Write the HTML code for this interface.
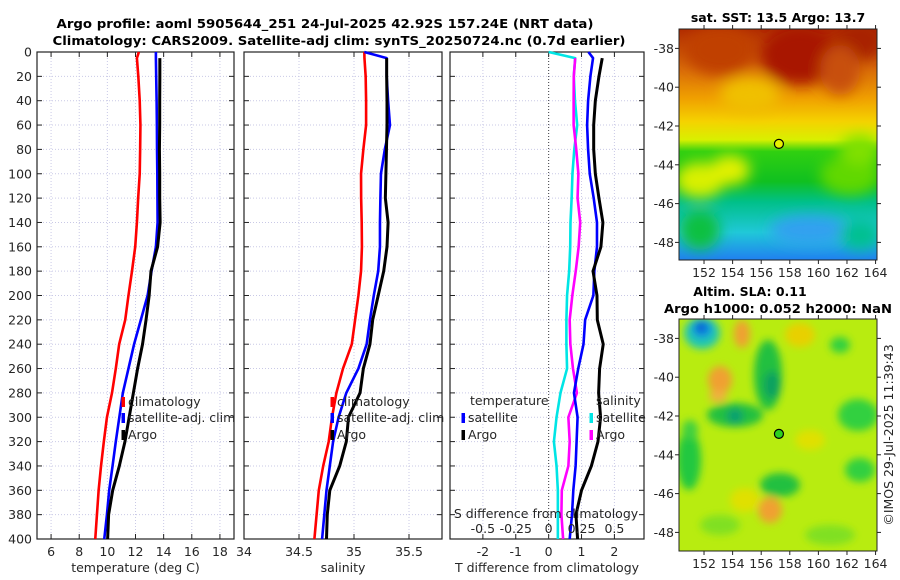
<!DOCTYPE html>
<html><head><meta charset="utf-8"><style>
html,body{margin:0;padding:0;background:#fff;}
svg{display:block;font-family:"DejaVu Sans","Liberation Sans",sans-serif;}
</style></head><body>
<svg id="fig" width="900" height="580" viewBox="0 0 900 580" xmlns="http://www.w3.org/2000/svg">
<defs>
<filter id="blur8" x="-50%" y="-50%" width="200%" height="200%"><feGaussianBlur stdDeviation="7"/></filter>
<filter id="blur4" x="-50%" y="-50%" width="200%" height="200%"><feGaussianBlur stdDeviation="4"/></filter>
<clipPath id="clipMap1"><rect x="679" y="29" width="198" height="231"/></clipPath>
<clipPath id="clipMap2"><rect x="679" y="319" width="198" height="232"/></clipPath>
<linearGradient id="sstGrad" x1="0" y1="0" x2="0" y2="1">
<stop offset="0" stop-color="#b02a00"/><stop offset="0.17" stop-color="#d86a08"/><stop offset="0.3" stop-color="#f0a000"/>
<stop offset="0.4" stop-color="#f5d200"/><stop offset="0.48" stop-color="#d8f000"/><stop offset="0.53" stop-color="#30d010"/>
<stop offset="0.66" stop-color="#10c020"/><stop offset="0.75" stop-color="#00c08a"/><stop offset="0.88" stop-color="#20c8d8"/>
<stop offset="1" stop-color="#2080f0"/></linearGradient>
</defs>
<text x="325" y="28" text-anchor="middle" font-weight="bold" font-size="12.5" textLength="537" lengthAdjust="spacingAndGlyphs">Argo profile: aoml 5905644_251 24-Jul-2025 42.92S 157.24E (NRT data)</text>
<text x="339" y="45" text-anchor="middle" font-weight="bold" font-size="12.5" textLength="573" lengthAdjust="spacingAndGlyphs">Climatology: CARS2009. Satellite-adj clim: synTS_20250724.nc (0.7d earlier)</text>
<g id="panels"></g>
<g id="maps"></g>
</svg>
<script>
// ---- profile data (depth in m) ----
const depths = [0,5,20,40,60,80,100,120,140,160,180,200,220,240,260,280,300,320,340,360,380,400];
const climT = [12.24,12.1,12.2,12.3,12.35,12.33,12.3,12.19,12.1,11.98,11.75,11.5,11.27,10.84,10.6,10.33,9.97,9.75,9.55,9.38,9.26,9.14];
const satT  = [13.45,13.45,13.47,13.5,13.52,13.53,13.55,13.56,13.57,13.45,13.14,12.86,12.38,11.9,11.5,11.1,10.85,10.6,10.37,10.13,9.97,9.78];
const argoT = [null,13.73,13.73,13.72,13.72,13.7,13.72,13.72,13.75,13.57,13.1,12.97,12.75,12.5,12.15,11.85,11.55,11.25,10.85,10.38,10.09,10.02];
const climS = [35.094,35.095,35.106,35.11,35.11,35.085,35.064,35.065,35.07,35.072,35.064,35.04,35.01,34.98,34.9,34.84,34.8,34.77,34.72,34.68,34.66,34.64];
const satS  = [35.094,35.297,35.297,35.31,35.327,35.28,35.245,35.24,35.236,35.236,35.22,35.18,35.145,35.115,35.04,34.93,34.86,34.81,34.78,34.75,34.73,34.71];
const argoS = [null,35.297,35.297,35.3,35.3,35.295,35.29,35.285,35.31,35.3,35.27,35.22,35.17,35.145,35.085,35.055,34.95,34.93,34.87,34.78,34.757,34.75];
const depthTicks = [0,20,40,60,80,100,120,140,160,180,200,220,240,260,280,300,320,340,360,380,400];
const tTicks = [6,8,10,12,14,16,18];
const sTicks = [34,34.5,35,35.5];
const sTickLabels = ["34","34.5","35","35.5"];
const dTTicks = [-2,-1,0,1,2];
const dSTicks = [-0.5,-0.25,0,0.25,0.5];
const dSTickLabels = ["-0.5","-0.25","0","0.25","0.5"];
// map data
const argoLon = 157.24, argoLat = -42.92;
const lonTicks = [152,154,156,158,160,162,164];
const latTicks = [-38,-40,-42,-44,-46,-48];

const NS="http://www.w3.org/2000/svg";
function el(tag, attrs, parent){const e=document.createElementNS(NS,tag);for(const k in attrs)e.setAttribute(k,attrs[k]);parent.appendChild(e);return e;}
const G=document.getElementById('panels');
const top0=52, bot0=539;
const yD = d => top0 + (d/400)*(bot0-top0);

function makeLinear(d0,d1,r0,r1){return v=>r0+(v-d0)/(d1-d0)*(r1-r0);}
const xT = makeLinear(5,19,37,234);
const xS = makeLinear(34,35.8,244,442);
const xdT = makeLinear(-3,2.9,450,644);
const xdS = v => xdT(v*4);

function panelFrame(x0,x1,name,xt,tickVals,tickLabels,xlabel,showY){
  const g=el('g',{},G);
  
  
  // grid
  tickVals.forEach(v=>{const x=xt(v);if(x>x0+1&&x<x1-1){const l=el('line',{x1:x,x2:x,y1:top0,y2:bot0,stroke:'#c9c9e6','stroke-width':1,'stroke-dasharray':'1,2'},g);}});
  depthTicks.forEach(d=>{const y=yD(d);if(d>0&&d<400){const l=el('line',{x1:x0,x2:x1,y1:y,y2:y,stroke:'#c9c9e6','stroke-width':1,'stroke-dasharray':'1,2'},g);}
    el('line',{x1:x0,x2:x0+5,y1:y,y2:y,stroke:'#222'},g);el('line',{x1:x1,x2:x1-5,y1:y,y2:y,stroke:'#222'},g);
    if(showY){const t=el('text',{x:x0-5,y:y+4.5,'text-anchor':'end','font-size':12.5,fill:'#262626'},g);t.textContent=d;}
  });
  tickVals.forEach((v,i)=>{const x=xt(v);el('line',{x1:x,x2:x,y1:bot0,y2:bot0-5,stroke:'#222'},g);el('line',{x1:x,x2:x,y1:top0,y2:top0+5,stroke:'#222'},g);
    const t=el('text',{x:x,y:bot0+17,'text-anchor':'middle','font-size':12.5,fill:'#262626'},g);t.textContent=tickLabels[i];});
  const r=el('rect',{x:x0,y:top0,width:x1-x0,height:bot0-top0,fill:'none',stroke:'#222','stroke-width':1.2},g);
  
  const xl=el('text',{x:(x0+x1)/2,y:572,'text-anchor':'middle','font-size':12.5,fill:'#262626'},g);xl.textContent=xlabel;
  
  return g;
}
function series(g,vals,xf,color,name,w){
  let pts=[];vals.forEach((v,i)=>{if(v!==null&&v!==undefined)pts.push(xf(v).toFixed(2)+','+yD(depths[i]).toFixed(2));});
  const p=el('polyline',{points:pts.join(' '),fill:'none',stroke:color,'stroke-width':w||2.6,'stroke-linejoin':'round'},g);
  
  
}
function legendEntry(g,x,y,color,label,name){
  const m=el('rect',{x:x-1.5,y:y-8,width:3.5,height:10,fill:color},g);
  const t=el('text',{x:x+5,y:y+1,'font-size':12.5,fill:'#262626'},g);t.textContent=label;
  
  
}

// Panel 1 temperature
const g1=panelFrame(37,234,'temperature-panel',xT,tTicks,tTicks.map(String),'temperature (deg C)',true);
series(g1,climT,xT,'#ff0000','temp-climatology-line');
series(g1,satT,xT,'#0000ff','temp-satellite-line');
series(g1,argoT,xT,'#000000','temp-argo-line',3);
legendEntry(g1,123,405,'#ff0000','climatology','legend-climatology');
legendEntry(g1,123,421,'#0000ff','satellite-adj. clim','legend-satellite-adj');
legendEntry(g1,123,438,'#000000','Argo','legend-argo');

// Panel 2 salinity
const g2=panelFrame(244,442,'salinity-panel',xS,sTicks,sTickLabels,'salinity',false);
series(g2,climS,xS,'#ff0000','sal-climatology-line');
series(g2,satS,xS,'#0000ff','sal-satellite-line');
series(g2,argoS,xS,'#000000','sal-argo-line',3);
legendEntry(g2,332,405,'#ff0000','climatology','legend-climatology-2');
legendEntry(g2,332,421,'#0000ff','satellite-adj. clim','legend-satellite-adj-2');
legendEntry(g2,332,438,'#000000','Argo','legend-argo-2');

// Panel 3 differences
const g3=panelFrame(450,644,'difference-panel',xdT,dTTicks,dTTicks.map(String),'T difference from climatology',false);
const zl=el('line',{x1:xdT(0),x2:xdT(0),y1:top0,y2:bot0,stroke:'#444','stroke-width':1,'stroke-dasharray':'1,2'},g3);

const dSatS=satS.map((v,i)=>v-climS[i]);
const dArgoS=argoS.map((v,i)=>v===null?null:v-climS[i]);
const dSatT=satT.map((v,i)=>v-climT[i]);
const dArgoT=argoT.map((v,i)=>v===null?null:v-climT[i]);
series(g3,dSatS,xdS,'#00e5e5','sdiff-satellite-line');
series(g3,dArgoS,xdS,'#ff00ff','sdiff-argo-line');
series(g3,dSatT,xdT,'#0000ff','tdiff-satellite-line');
series(g3,dArgoT,xdT,'#000000','tdiff-argo-line',3);
const sl=el('text',{x:546,y:518,'text-anchor':'middle','font-size':12.5,fill:'#262626'},g3);sl.textContent='S difference from climatology';

dSTicks.forEach((v,i)=>{const t=el('text',{x:xdS(v),y:533,'text-anchor':'middle','font-size':12.5,fill:'#262626'},g3);t.textContent=dSTickLabels[i];
  });
const lt=el('text',{x:470,y:405,'font-size':12.5,fill:'#262626'},g3);lt.textContent='temperature';

legendEntry(g3,463,421,'#0000ff','satellite','legend-t-satellite');
legendEntry(g3,463,438,'#000000','Argo','legend-t-argo');
const ls=el('text',{x:596,y:405,'font-size':12.5,fill:'#262626'},g3);ls.textContent='salinity';

legendEntry(g3,591,421,'#00e5e5','satellite','legend-s-satellite');
legendEntry(g3,591,438,'#ff00ff','Argo','legend-s-argo');

// ---- maps ----
const M=document.getElementById('maps');
const mx = makeLinear(150.25,164.1,679,877);
function mapFrame(y0,y1,latTop,pxPerDeg,name,clip){
  const ly = lat => y0 + (latTop-lat)*pxPerDeg;
  const g=el('g',{},M);
  
  
  return {g,ly};
}
// Map 1 SST
const m1=mapFrame(29,260,-37,19.4,'sst-map');
const c1=el('g',{'clip-path':'url(#clipMap1)'},m1.g);
el('rect',{x:679,y:29,width:198,height:231,fill:'url(#sstGrad)'},c1);
const b1=el('g',{filter:'url(#blur8)'},c1);
[[800,55,40,30,'#a81800'],[720,50,35,25,'#c04000'],[860,40,25,20,'#a82000'],[840,70,20,25,'#c85010'],
 [750,95,30,18,'#f0c000'],[700,180,25,18,'#d8f000'],[730,170,20,15,'#e0f000'],[850,175,30,20,'#60d800'],
 [860,150,20,15,'#80e000'],[700,230,20,20,'#10c040'],[810,230,40,15,'#30a0f0'],[860,235,20,15,'#00c090']]
.forEach(b=>el('ellipse',{cx:b[0],cy:b[1],rx:b[2],ry:b[3],fill:b[4]},b1));
const p1=el('circle',{cx:mx(argoLon),cy:m1.ly(argoLat),r:4.5,fill:'#e8f000',stroke:'#000','stroke-width':1.2},m1.g);


// Map 2 SLA
const m2=mapFrame(319,551,-37,19.4,'sla-map');
const c2=el('g',{'clip-path':'url(#clipMap2)'},m2.g);
el('rect',{x:679,y:319,width:198,height:232,fill:'#b8ec10'},c2);
const b2=el('g',{filter:'url(#blur4)'},c2);
[[702,333,18,16,'#20c8b0'],[702,329,10,9,'#1090e0'],[701,327,5,5,'#1050d0'],[720,380,12,14,'#f0a030'],[742,334,8,14,'#f0a030'],
 [718,396,9,6,'#f0b040'],[768,375,14,35,'#20c040'],[772,385,8,14,'#10a060'],[735,415,28,12,'#20c040'],[735,416,8,8,'#10a070'],
 [689,460,12,30,'#20c840'],[780,485,20,12,'#20c040'],[858,415,20,16,'#30d040'],[770,510,12,13,'#f0a030'],[840,345,10,8,'#30d040'],
 [860,470,15,12,'#30d040'],[800,335,15,12,'#e8d000'],[720,525,20,10,'#80e020'],[830,535,25,10,'#80e020'],[690,430,8,10,'#40d040'],
 [810,440,15,10,'#e0e000'],[745,500,15,12,'#e0e000']]
.forEach(b=>el('ellipse',{cx:b[0],cy:b[1],rx:b[2],ry:b[3],fill:b[4]},b2));
const p2=el('circle',{cx:mx(argoLon),cy:m2.ly(argoLat),r:4.5,fill:'#30d020',stroke:'#000','stroke-width':1.2},m2.g);


function mapAxes(m,y0,y1){
  const g=m.g;
  el('rect',{x:679,y:y0,width:198,height:y1-y0,fill:'none',stroke:'#222','stroke-width':1},g);
  lonTicks.forEach(v=>{const x=mx(v);el('line',{x1:x,x2:x,y1:y1,y2:y1+4,stroke:'#222'},g);el('line',{x1:x,x2:x,y1:y0,y2:y0-4,stroke:'#222'},g);
    const t=el('text',{x:x,y:y1+17,'text-anchor':'middle','font-size':12.5,fill:'#262626'},g);t.textContent=v;
    });
  latTicks.forEach(v=>{const y=m.ly(v);el('line',{x1:679,x2:675,y1:y,y2:y,stroke:'#222'},g);el('line',{x1:877,x2:881,y1:y,y2:y,stroke:'#222'},g);
    const t=el('text',{x:674,y:y+4.5,'text-anchor':'end','font-size':12.5,fill:'#262626'},g);t.textContent=v;
    });
}
mapAxes(m1,29,260);
mapAxes(m2,319,551);
function txt(x,y,s,name,extra){const t=el('text',Object.assign({x:x,y:y,'text-anchor':'middle','font-size':12.5,'font-weight':'bold'},extra||{}),M);t.textContent=s;
  return t;}
txt(778,22,'sat. SST: 13.5 Argo: 13.7','sst-map-title');
txt(750,296,'Altim. SLA: 0.11','sla-map-title');
txt(778,313,'Argo h1000: 0.052 h2000: NaN','sla-map-subtitle',{textLength:228,lengthAdjust:'spacingAndGlyphs'});
const cr=el('text',{x:0,y:0,'text-anchor':'middle','font-size':12.5,fill:'#262626',transform:'translate(893,435) rotate(-90)'},M);
cr.textContent='©IMOS 29-Jul-2025 11:39:43';


</script>
</body></html>
